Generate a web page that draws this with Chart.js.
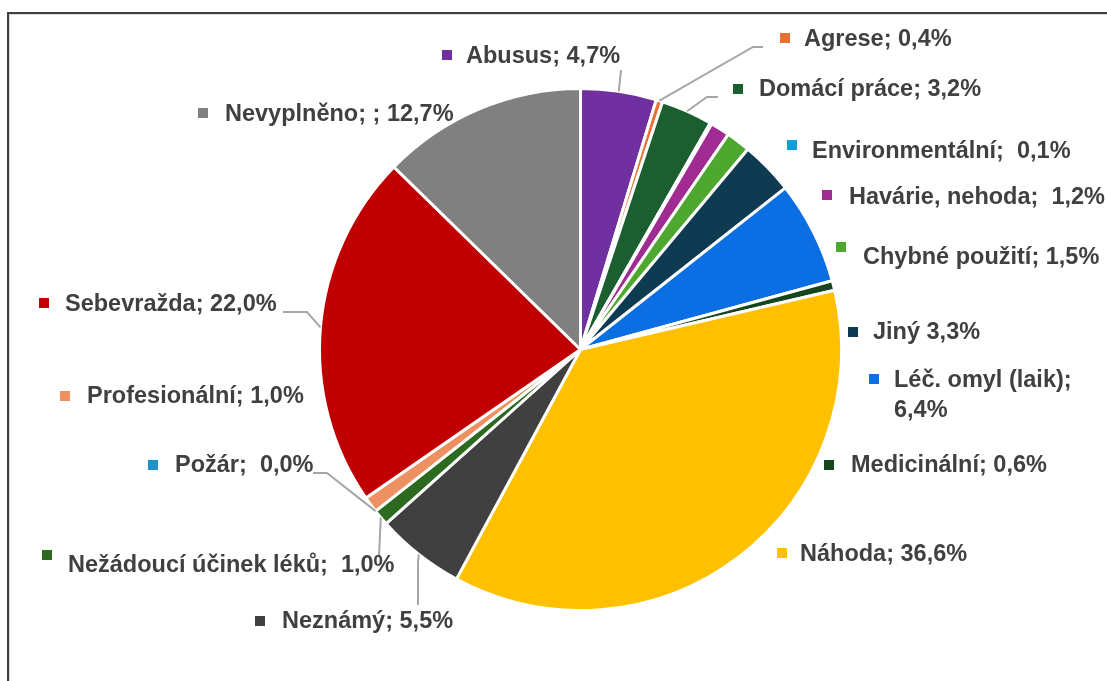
<!DOCTYPE html>
<html>
<head>
<meta charset="utf-8">
<script src="https://cdn.jsdelivr.net/npm/chart.js@4.4.1/dist/chart.umd.min.js"></script>
<style>
  html, body { margin: 0; padding: 0; background: #fff; }
  #wrap { position: relative; width: 1107px; height: 681px; overflow: hidden; }
  #pie { position: absolute; left: 0; top: 0; }
  #frame {
    position: absolute; left: 7px; top: 12px; right: -10px; bottom: -10px;
    border-top: 2px solid #404040; border-left: 2px solid #404040;
    box-shadow: inset 1px 1px 0 #d9d9d9;
  }
</style>
</head>
<body>
<div id="wrap">
  <canvas id="pie" width="1107" height="681"></canvas>
  <div id="frame"></div>
</div>
<script>
// categories, clockwise from 12 o'clock
const categories = [
  'Abusus', 'Agrese', 'Domácí práce', 'Environmentální', 'Havárie, nehoda',
  'Chybné použití', 'Jiný', 'Léč. omyl (laik)', 'Medicinální', 'Náhoda',
  'Neznámý', 'Nežádoucí účinek léků', 'Požár', 'Profesionální', 'Sebevražda',
  'Nevyplněno'
];
const shares = [4.7, 0.4, 3.2, 0.1, 1.2, 1.5, 3.3, 6.4, 0.6, 36.6, 5.5, 1.0, 0.0, 1.0, 22.0, 12.7];
const sliceColors = [
  '#7030A0', '#E97132', '#1B5E2F', '#0F9ED5', '#A02B93',
  '#4EA72E', '#0E3A52', '#0B6FE3', '#17461E', '#FFC000',
  '#404040', '#2B6A1F', '#1F92C8', '#EE9162', '#C00000',
  '#808080'
];
// text between category name and value, as typed in the sheet
const separators = [
  '; ', '; ', '; ', ';  ', ';  ', '; ', ' ', ';\n', '; ', '; ',
  '; ', ';  ', ';  ', '; ', '; ', '; ; '
];

// label placement: marker centre, text start (x, middle of first line), leader elbows
const labelSpots = [
  { m: [447, 55],  t: [466, 57],  lead: [[621, 70]] },
  { m: [785, 38],  t: [804, 40],  lead: [[753, 47], [763, 47]] },
  { m: [738, 89],  t: [759, 90],  lead: [[707, 97], [718, 97]] },
  { m: [792, 145], t: [812, 152], lead: null },
  { m: [827, 195], t: [849, 198], lead: null },
  { m: [841, 247], t: [863, 258], lead: null },
  { m: [853, 332], t: [873, 333], lead: null },
  { m: [874, 379], t: [894, 381], lead: null },
  { m: [829, 465], t: [851, 466], lead: null },
  { m: [782, 553], t: [800, 555], lead: null },
  { m: [260, 621], t: [282, 622], lead: [[418, 562], [418, 605]] },
  { m: [47, 555],  t: [68, 566],  lead: [[379, 557]] },
  { m: [153, 465], t: [175, 466], lead: [[327, 473], [313, 473]] },
  { m: [65, 396],  t: [87, 397],  lead: null },
  { m: [44, 303],  t: [65, 305],  lead: [[307, 312], [283, 312]] },
  { m: [203, 113], t: [225, 115], lead: null }
];

function fmtPct(v) {
  return v.toFixed(1).replace('.', ',') + '%';
}

const labelFont = 'bold 23.5px "Liberation Sans", Arial, sans-serif';
const lineGap = 30;

const outsideLabels = {
  id: 'outsideLabels',
  afterDatasetsDraw(chart) {
    const ctx = chart.ctx;
    const arcs = chart.getDatasetMeta(0).data;
    ctx.save();
    arcs.forEach((arc, i) => {
      const spot = labelSpots[i];
      const mid = (arc.startAngle + arc.endAngle) / 2;
      const ax = arc.x + Math.cos(mid) * arc.outerRadius;
      const ay = arc.y + Math.sin(mid) * arc.outerRadius;

      if (spot.lead) {
        ctx.strokeStyle = '#A6A6A6';
        ctx.lineWidth = 2;
        ctx.beginPath();
        ctx.moveTo(ax, ay);
        spot.lead.forEach(p => ctx.lineTo(p[0], p[1]));
        ctx.stroke();
      }

      ctx.fillStyle = sliceColors[i];
      ctx.fillRect(spot.m[0] - 5, spot.m[1] - 5, 10, 10);

      const text = categories[i] + separators[i] + fmtPct(shares[i]);
      ctx.fillStyle = '#404040';
      ctx.font = labelFont;
      ctx.textBaseline = 'middle';
      ctx.textAlign = 'left';
      text.split('\n').forEach((line, k) => {
        ctx.fillText(line, spot.t[0], spot.t[1] + k * lineGap);
      });
    });
    ctx.restore();
  }
};

new Chart(document.getElementById('pie'), {
  type: 'pie',
  data: {
    labels: categories,
    datasets: [{
      data: shares,
      backgroundColor: sliceColors,
      borderColor: '#ffffff',
      borderWidth: 3
    }]
  },
  options: {
    responsive: false,
    animation: false,
    layout: { padding: { left: 318, right: 264, top: 86, bottom: 68 } },
    plugins: {
      legend: { display: false },
      tooltip: { enabled: false }
    }
  },
  plugins: [outsideLabels]
});
</script>
</body>
</html>
